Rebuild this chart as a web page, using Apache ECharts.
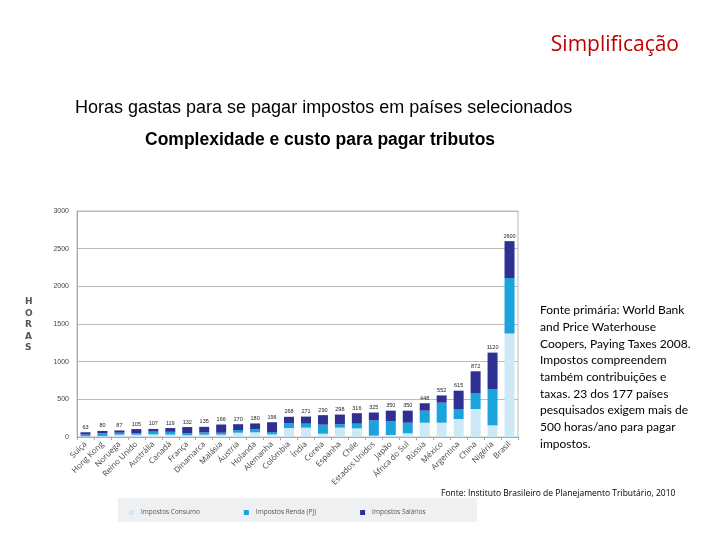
<!DOCTYPE html>
<html><head><meta charset="utf-8">
<script src="https://cdn.jsdelivr.net/npm/echarts@6/dist/echarts.min.js"></script>
<style>html,body{margin:0;padding:0;background:#fff}#c{width:720px;height:540px}</style>
</head><body><div id="c"></div>
<script>
const categories = ['Suíça','Hong Kong','Noruega','Reino Unido','Austrália','Canadá','França','Dinamarca','Malásia','Áustria','Holanda','Alemanha','Colômbia','Índia','Coreia','Espanha','Chile','Estados Unidos','Japão','África do Sul','Rússia','México','Argentina','China','Nigéria','Brasil'];
const consumo  = [10,12,30,30,35,31,22,31,31,57,62,35,119,124,44,124,115,18,27,49,190,190,239,372,155,1374];
const renda    = [22,40,27,22,37,38,26,31,26,36,40,31,62,53,120,44,62,203,185,141,160,266,133,212,482,736];
const salarios = [31,28,30,53,35,50,84,73,109,77,78,130,87,94,126,130,139,104,138,160,98,96,243,288,483,490];
const totals   = [63,80,87,105,107,119,132,135,166,170,180,196,268,271,290,298,316,325,350,350,448,552,615,872,1120,2600];
const yTicks   = [0,500,1000,1500,2000,2500,3000];
const seriesNames = ['Impostos Consumo','Impostos Renda (PJ)','Impostos Salários'];

const chart = echarts.init(document.getElementById('c'));
chart.setOption({
  animation:false,
  backgroundColor:'#fff',
  color:['#cde8f6','#1aa3dd','#2e3192'],
  title:[
    {text:'Simplificação',right:36,top:30,textStyle:{color:'#c00000',fontSize:21,fontWeight:'normal',fontFamily:'Open Sans'}},
    {text:'Horas gastas para se pagar impostos em países selecionados',left:70,top:94,textStyle:{color:'#000',fontSize:18,fontWeight:'normal',fontFamily:'Liberation Sans'}},
    {text:'Complexidade e custo para pagar tributos',left:140,top:126,textStyle:{color:'#000',fontSize:17.5,fontWeight:'bold',fontFamily:'Liberation Sans'}},
    {text:'Fonte: Instituto Brasileiro de Planejamento Tributário, 2010',left:436,top:484,textStyle:{color:'#000',fontSize:8.5,fontWeight:'normal',fontFamily:'Open Sans'}}
  ],
  graphic:[
    {type:'text',left:540,top:302,style:{text:'Fonte primária: World Bank\nand Price Waterhouse\nCoopers, Paying Taxes 2008.\nImpostos compreendem\ntambém contribuições e\ntaxas. 23 dos 177 países\npesquisados exigem mais de\n500 horas/ano para pagar\nimpostos.',lineHeight:16.7,fontSize:12,fontFamily:'Lato',fill:'#000'}},
    {type:'text',left:25,top:296,style:{text:'H\nO\nR\nA\nS',lineHeight:11.5,fontSize:9,fontWeight:'bold',fontFamily:'DejaVu Sans',fill:'#555',align:'center'}},
    {type:'rect',left:118,top:498,shape:{width:359,height:24},style:{fill:'#eef0f1'},z:-1}
  ],
  legend:{left:124,top:504,itemWidth:5,itemHeight:5,itemGap:44,icon:'rect',
    textStyle:{fontSize:6.5,color:'#555',fontFamily:'Open Sans',padding:[0,0,0,2]},data:seriesNames},
  grid:{left:77,right:202,top:211,bottom:103,show:true,borderColor:'#bbb',borderWidth:1},
  xAxis:{type:'category',data:categories,
    axisLine:{lineStyle:{color:'#aaa'}},
    axisTick:{show:true,alignWithLabel:false,length:3,lineStyle:{color:'#aaa'}},
    axisLabel:{rotate:45,fontSize:8,color:'#444',fontFamily:'Open Sans',interval:0,margin:6}},
  yAxis:{type:'value',min:0,max:3000,interval:500,
    axisLine:{show:true,lineStyle:{color:'#aaa'}},
    axisTick:{show:false},
    axisLabel:{fontSize:7,color:'#444',margin:8,formatter:v=>yTicks.includes(v)?String(v):''},
    splitLine:{lineStyle:{color:'#bbb',width:1}}},
  series:[
    {name:seriesNames[0],type:'bar',stack:'t',barWidth:10,data:consumo},
    {name:seriesNames[1],type:'bar',stack:'t',barWidth:10,data:renda},
    {name:seriesNames[2],type:'bar',stack:'t',barWidth:10,data:salarios,
      label:{show:true,position:'top',distance:2,fontSize:5.5,color:'#222',formatter:p=>String(totals[p.dataIndex])}}
  ]
});
</script></body></html>
